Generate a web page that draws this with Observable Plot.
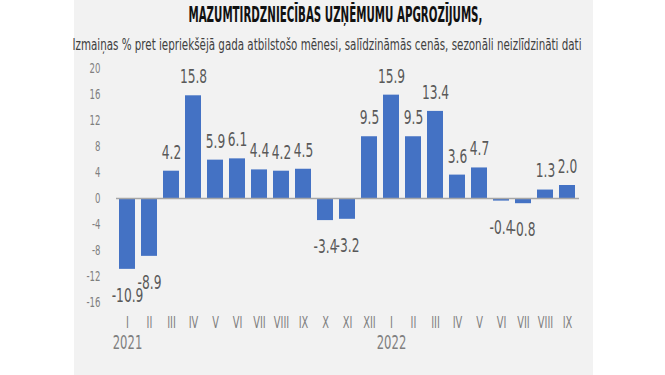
<!DOCTYPE html>
<html><head><meta charset="utf-8">
<script src="https://cdn.jsdelivr.net/npm/d3@7"></script>
<script src="https://cdn.jsdelivr.net/npm/@observablehq/plot@0.6"></script>
<style>
html,body{margin:0;padding:0;background:#fff;width:665px;height:375px;overflow:hidden;}
#panel{position:absolute;left:74px;top:0;width:519px;height:375px;background:#f2f2f2;}
.ttl{position:absolute;white-space:nowrap;font-family:"Liberation Sans Narrow","DejaVu Sans Condensed",sans-serif;transform-origin:center center;}
#title{top:3px;font-size:21px;font-weight:bold;color:#111;}
#subtitle{top:36px;font-size:15px;color:#404040;}
#chart{position:absolute;left:74px;top:58px;}
</style></head>
<body>
<div id="panel"></div>
<div id="title" class="ttl">MAZUMTIRDZNIECĪBAS UZŅĒMUMU APGROZĪJUMS,</div>
<div id="subtitle" class="ttl">Izmaiņas % pret iepriekšējā gada atbilstošo mēnesi, salīdzināmās cenās, sezonāli neizlīdzināti dati</div>
<div id="chart"></div>
<script>
const years = ["2021", "2022"];
const months2021 = ["I","II","III","IV","V","VI","VII","VIII","IX","X","XI","XII"];
const values2021 = [-10.9, -8.9, 4.2, 15.8, 5.9, 6.1, 4.4, 4.2, 4.5, -3.4, -3.2, 9.5];
const months2022 = ["I","II","III","IV","V","VI","VII","VIII","IX"];
const values2022 = [15.9, 9.5, 13.4, 3.6, 4.7, -0.4, -0.8, 1.3, 2.0];
const yTicks = [-16, -12, -8, -4, 0, 4, 8, 12, 16, 20];

const data = [
  ...months2021.map((m, i) => ({key: years[0] + "-" + m, month: m, year: years[0], value: values2021[i]})),
  ...months2022.map((m, i) => ({key: years[1] + "-" + m, month: m, year: years[1], value: values2022[i]}))
];
const yearStarts = years.map(y => ({key: y + "-I", year: y}));

const font = `"Liberation Sans Narrow","DejaVu Sans Condensed",sans-serif`;
const chart = Plot.plot({
  width: 519, height: 317,
  marginLeft: 42, marginRight: 14, marginTop: 10, marginBottom: 73,
  style: {background: "transparent", fontFamily: font, color: "#7f7f7f"},
  x: {type: "band", domain: data.map(d => d.key), paddingInner: 0.27, paddingOuter: 0.135, axis: null},
  y: {domain: [-16, 20], axis: null},
  marks: [
    Plot.barY(data, {x: "key", y: "value", fill: "#4472c4"}),
    Plot.ruleY([0], {stroke: "#a6a6a6", strokeWidth: 1.5}),
    Plot.axisY({ticks: yTicks, tickSize: 0, tickPadding: 16, fontSize: 14, fill: "#7f7f7f", label: null, tickFormat: d => String(d)}),
    Plot.axisX({tickSize: 0, tickPadding: 14, fontSize: 16, fill: "#7f7f7f", label: null, tickFormat: k => k.split("-")[1]}),
    Plot.text(data.filter(d => d.value >= 0), {x: "key", y: "value", text: d => d.value.toFixed(1), dy: -19, fontSize: 20, fill: "#595959"}),
    Plot.text(data.filter(d => d.value < 0), {x: "key", y: "value", text: d => d.value.toFixed(1), dy: 26, fontSize: 20, fill: "#595959"}),
    Plot.text(yearStarts, {x: "key", text: "year", frameAnchor: "bottom", dy: 46, fontSize: 19, fill: "#7f7f7f"})
  ]
});
document.getElementById("chart").appendChild(chart);

// condense text horizontally to imitate the narrow font of the original
const sx = 0.68;
chart.querySelectorAll("text").forEach(t => {
  let tr = t.getAttribute("transform");
  if (!tr) {
    const x = t.getAttribute("x") || 0, y = t.getAttribute("y") || 0;
    t.removeAttribute("x"); t.removeAttribute("y");
    tr = `translate(${x},${y})`;
  }
  t.setAttribute("transform", tr + ` scale(${sx},1)`);
});

function fit(id, left, right) {
  const el = document.getElementById(id);
  const w = el.getBoundingClientRect().width;
  const target = right - left;
  el.style.left = (left + (target - w) / 2) + "px";
  el.style.transform = `scaleX(${target / w})`;
}
fit("title", 188, 482);
fit("subtitle", 73, 582);
</script>
</body></html>
